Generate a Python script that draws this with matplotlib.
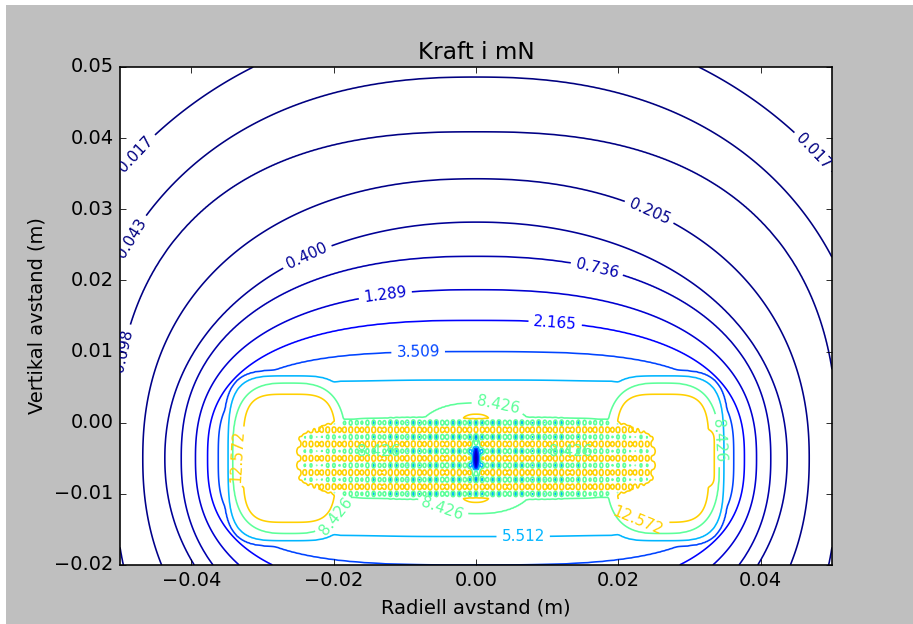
import numpy as np
import matplotlib.pyplot as plt
from matplotlib.colors import Normalize
from matplotlib.patches import Rectangle

plt.style.use('classic')

# contour levels drawn in the chart (mN)
levels = [0.017, 0.043, 0.098, 0.205, 0.400, 0.736, 1.289, 2.165,
          3.509, 5.512, 8.426, 12.572]

# outer field: where each level crosses the horizontal / vertical axis
# through the magnet centre, plus a shape exponent
y_center = -0.005
base_levels = levels[:-1]
base_w = [0.064, 0.056, 0.0508, 0.0468, 0.0437, 0.0414, 0.0394, 0.0377, 0.0362, 0.0348, 0.0341]
base_h = [0.062, 0.0536, 0.0459, 0.0393, 0.0332, 0.0284, 0.0237, 0.0194, 0.0150, 0.0110, 0.0055]
base_n = [2.1, 2.3, 2.5, 2.2, 2.1, 2.3, 2.4, 2.6, 3.2, 4.5, 8.0]

# the two hot lobes at the ends of the magnet
lobe_x = 0.0262
lobe_levels = [3.509, 5.512, 8.426, 12.572]
lobe_w = [0.0093, 0.0086, 0.0080, 0.0065]
lobe_h = [0.0124, 0.0116, 0.0106, 0.0090]
lobe_n = [4.0, 4.0, 3.0, 4.0]

# small bulge over the middle
bulge_levels = [3.509, 5.512, 8.426, 12.572]
bulge_w = [0.014, 0.012, 0.0093, 0.0035]
bulge_h = [0.0100, 0.0092, 0.0078, 0.0062]
bulge_n = [2.5, 2.5, 2.5, 2.5]

# noisy grid pattern inside the magnet body
box_w, box_h = 0.0262, 0.0058
tex_mean, tex_end_rise = 10.7, 0.8
tex_row, tex_cell, tex_cell2 = 2.5, 2.2, 1.3
tex_amp_mid, tex_amp_drop = 1.25, 0.7
row_period, col_period, col_period2 = 0.002, 0.0008, 0.0011
dip_w, dip_h = 0.0007, 0.0022

# label positions (data coords) per level
label_pos = {
    0.017: [(-0.0475, 0.0375), (0.0478, 0.0385)],
    0.043: [(-0.049, 0.0263)],
    0.098: [(-0.0493, 0.0101)],
    0.205: [(0.024, 0.0287)],
    0.400: [(-0.0236, 0.0232)],
    0.736: [(0.017, 0.0217)],
    1.289: [(-0.0128, 0.0179)],
    2.165: [(0.0111, 0.0139)],
    3.509: [(-0.0081, 0.0099)],
    5.512: [(0.0066, -0.0159)],
    8.426: [(0.0031, 0.0027), (0.0341, -0.0025), (-0.019, -0.0135),
            (-0.005, -0.0125), (-0.0139, -0.004), (0.0132, -0.004)],
    12.572: [(-0.0327, -0.0047), (0.023, -0.0127)],
}


def shells(u, v, lev, half_w, half_h, shape, decay):
    loglev = np.log(np.asarray(lev))
    g = np.stack([((np.abs(u) / a) ** n + (np.abs(v) / b) ** n) ** (1.0 / n)
                  for a, b, n in zip(half_w, half_h, shape)])
    inside = (g < 1).sum(axis=0)
    k = np.clip(inside - 1, 0, len(lev) - 2)
    g0 = np.take_along_axis(g, k[None], 0)[0]
    g1 = np.take_along_axis(g, (k + 1)[None], 0)[0]
    f = np.clip((1 - g0) / (g1 - g0 + 1e-9), 0, 2.5)
    logf = loglev[k] + f * (loglev[k + 1] - loglev[k])
    outside = inside == 0
    logf[outside] = loglev[0] - decay * (g[0][outside] - 1)
    return np.exp(logf)


x = np.linspace(-0.05, 0.05, 801)
y = np.linspace(-0.02, 0.05, 421)
X, Y = np.meshgrid(x, y)
V = Y - y_center

F_base = shells(X, V, base_levels, base_w, base_h, base_n, 7)
F_lobes = np.maximum(shells(X - lobe_x, V, lobe_levels, lobe_w, lobe_h, lobe_n, 25),
                     shells(X + lobe_x, V, lobe_levels, lobe_w, lobe_h, lobe_n, 25))
F_bulge = shells(X, V, bulge_levels, bulge_w, bulge_h, bulge_n, 25)
F_out = np.minimum(np.maximum(F_base, np.maximum(F_lobes, F_bulge)), 16)

# blend in the grid pattern inside the magnet body
s = (np.abs(X) / box_w) ** 4 + (np.abs(V) / box_h) ** 4
w = np.clip((1 - s) / 0.25, 0, 1)
w = w * w * (3 - 2 * w)
edge = np.clip(np.abs(X) / box_w, 0, 1) ** 2
amp = tex_amp_mid - tex_amp_drop * edge
F_tex = tex_mean + tex_end_rise * edge + amp * np.cos(2 * np.pi * V / row_period) * (
    tex_row + tex_cell * np.cos(2 * np.pi * X / col_period)
    + tex_cell2 * np.cos(2 * np.pi * X / col_period2))
F = (1 - w) * F_out + w * F_tex
F = F * (1 - np.exp(-(X / dip_w) ** 2 - (V / dip_h) ** 2))

fig = plt.figure(figsize=(913 / 116, 624 / 116), dpi=116, facecolor='#bfbfbf')
fig.add_artist(Rectangle((0, 0), 6 / 913, 1, transform=fig.transFigure,
                         facecolor='white', edgecolor='none'))
fig.add_artist(Rectangle((0, 1 - 5 / 624), 1, 5 / 624, transform=fig.transFigure,
                         facecolor='white', edgecolor='none'))

ax = fig.add_axes([120 / 913, 59 / 624, 712 / 913, 498 / 624])
cs = ax.contour(X, Y, F, levels=levels, cmap='jet', norm=Normalize(0, 18.2),
                linewidths=1.0)
ax.set_xlim(-0.05, 0.05)
ax.set_ylim(-0.02, 0.05)

# snap every label position onto its own level's line
manual = []
for lev, pos in label_pos.items():
    verts = cs.get_paths()[levels.index(lev)].vertices
    for px, py in pos:
        d = ((verts[:, 0] - px) * 7125) ** 2 + ((verts[:, 1] - py) * 7100) ** 2
        manual.append(tuple(verts[np.argmin(d)]))
ax.clabel(cs, fmt='%.3f', fontsize=9.5, inline=True, manual=manual)

ax.set_xticks([-0.04, -0.02, 0.0, 0.02, 0.04])
ax.set_yticks([-0.02, -0.01, 0.0, 0.01, 0.02, 0.03, 0.04, 0.05])
ax.set_title('Kraft i mN')
ax.set_xlabel('Radiell avstand (m)')
ax.set_ylabel('Vertikal avstand (m)')

fig.savefig('out.png', dpi=116, facecolor=fig.get_facecolor())
